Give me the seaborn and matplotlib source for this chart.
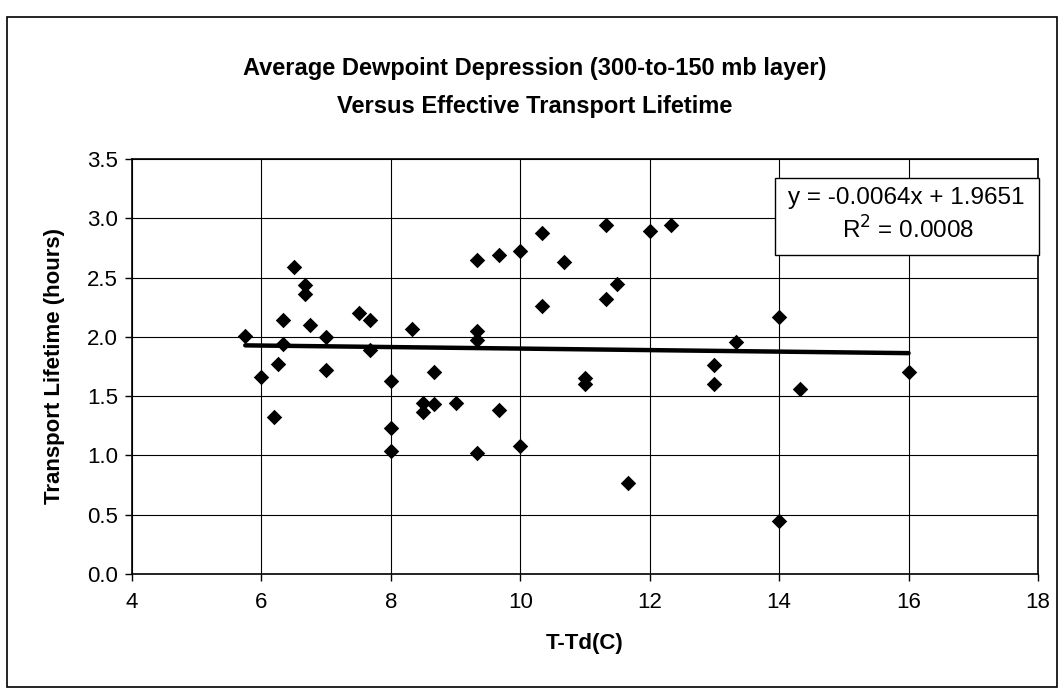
import numpy as np
import pandas as pd
import seaborn as sns
import matplotlib.pyplot as plt
from matplotlib.patches import Rectangle

# data
dewpoint_dep = [5.75, 6.0, 6.2, 6.25, 6.33, 6.33, 6.5, 6.67, 6.67, 6.75,
                7.0, 7.0, 7.5, 7.67, 7.67, 8.0, 8.0, 8.0, 8.33, 8.67,
                8.5, 8.5, 8.67, 9.0, 9.33, 9.33, 9.33, 9.33, 9.67, 9.67,
                10.0, 10.0, 10.33, 10.33, 10.67, 11.0, 11.0, 11.33, 11.33, 11.5,
                11.67, 12.0, 12.33, 14.0, 13.33, 13.0, 13.0, 16.0, 14.33, 14.0]
lifetime_hr = [2.01, 1.66, 1.32, 1.77, 1.94, 2.14, 2.59, 2.44, 2.36, 2.10,
               2.00, 1.72, 2.20, 2.14, 1.89, 1.63, 1.23, 1.04, 2.07, 1.70,
               1.44, 1.37, 1.43, 1.44, 2.65, 2.05, 1.97, 1.02, 2.69, 1.38,
               2.72, 1.08, 2.88, 2.26, 2.63, 1.65, 1.60, 2.94, 2.32, 2.45,
               0.77, 2.89, 2.94, 2.17, 1.96, 1.76, 1.60, 1.70, 1.56, 0.45]

# trendline from the chart
slope = -0.0064
intercept = 1.9651
r_squared = 0.0008

x_ticks = [4, 6, 8, 10, 12, 14, 16, 18]
y_ticks = [0.0, 0.5, 1.0, 1.5, 2.0, 2.5, 3.0, 3.5]

df = pd.DataFrame({"x": dewpoint_dep, "y": lifetime_hr})
xs = np.array([min(dewpoint_dep), max(dewpoint_dep)])
trend = pd.DataFrame({"x": xs, "y": slope * xs + intercept})

sns.set_style("white")
plt.rcParams['font.family'] = ['Liberation Sans', 'DejaVu Sans']
plt.rcParams['text.color'] = 'black'
plt.rcParams['axes.labelcolor'] = 'black'

W, H = 1064, 689
fig = plt.figure(figsize=(W / 100, H / 100), dpi=100)
ax = fig.add_axes([132 / W, 1 - 574 / H, (1038 - 132) / W, (574 - 159) / H])

ax.grid(True, color='black', linewidth=0.8)
ax.set_axisbelow(True)

sns.lineplot(data=trend, x="x", y="y", ax=ax, color='black', linewidth=3.2, zorder=2)
sns.scatterplot(data=df, x="x", y="y", ax=ax, marker='D', s=62, color='black',
                edgecolor='black', linewidth=0, zorder=3)

ax.set_xlim(4, 18)
ax.set_ylim(0, 3.5)
ax.set_xticks(x_ticks)
ax.set_yticks(y_ticks)
ax.set_yticklabels([f"{v:.1f}" for v in y_ticks])
ax.tick_params(axis='both', labelsize=16, direction='out', length=5, width=1,
               colors='black', left=True, bottom=True)
ax.tick_params(axis='x', pad=8)
ax.tick_params(axis='y', pad=5)
for s in ax.spines.values():
    s.set_color('black')
    s.set_linewidth(1.2)

ax.set_xlabel("T-Td(C)", fontsize=16, fontweight='bold', labelpad=14)
ax.set_ylabel("Transport Lifetime (hours)", fontsize=16, fontweight='bold', labelpad=16)

fig.text(535 / W, 1 - 68 / H, "Average Dewpoint Depression (300-to-150 mb layer)",
         ha='center', va='center', fontsize=17, fontweight='bold')
fig.text(535 / W, 1 - 106 / H, "Versus Effective Transport Lifetime",
         ha='center', va='center', fontsize=17, fontweight='bold')

# equation box
fig.patches.append(Rectangle((775 / W, 1 - 255 / H), (1039 - 775) / W, (255 - 178) / H,
                             transform=fig.transFigure, facecolor='white',
                             edgecolor='black', linewidth=1, zorder=5))
fig.text(906 / W, 1 - 198 / H, f"y = {slope}x + {intercept}", ha='center', va='center',
         fontsize=17.5, zorder=6)
fig.text(908 / W, 1 - 230 / H, f"R$^2$ = {r_squared:.4f}", ha='center', va='center',
         fontsize=17.5, zorder=6)

# chart border
fig.patches.append(Rectangle((7 / W, 2 / H), (1057 - 7) / W, (672 - 2) / H,
                             transform=fig.transFigure, fill=False,
                             edgecolor='black', linewidth=1.2))

fig.savefig("out.png", dpi=100)
